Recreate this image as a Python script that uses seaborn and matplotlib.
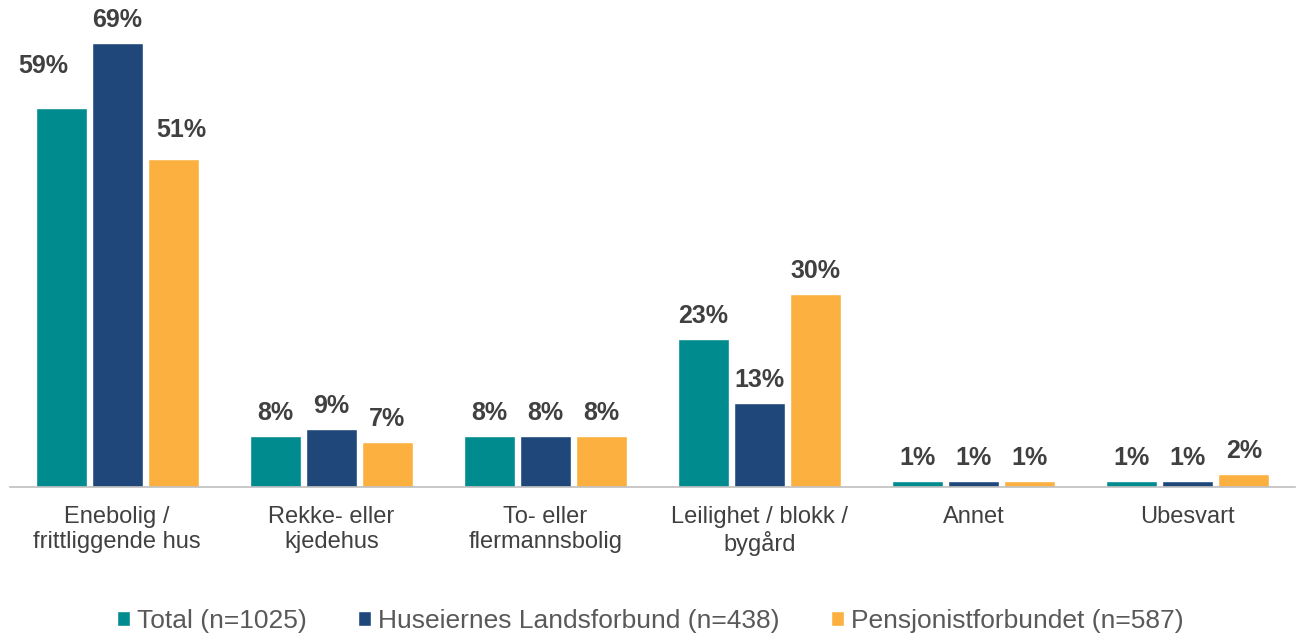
import pandas as pd
import matplotlib
matplotlib.use('Agg')
import matplotlib.pyplot as plt
import seaborn as sns
from matplotlib.ticker import FixedLocator

kategorier = ['Enebolig /\nfrittliggende hus', 'Rekke- eller\nkjedehus', 'To- eller\nflermannsbolig',
              'Leilighet / blokk /\nbygård', 'Annet', 'Ubesvart']
grupper = ['Total (n=1025)', 'Huseiernes Landsforbund (n=438)', 'Pensjonistforbundet (n=587)']
total = [59, 8, 8, 23, 1, 1]
huseiernes = [69, 9, 8, 13, 1, 1]
pensjonist = [51, 7, 8, 30, 1, 2]
farger = ['#008B8F', '#1F4779', '#FBB040']

rader = []
for gruppe, verdier in zip(grupper, [total, huseiernes, pensjonist]):
    for kat, v in zip(kategorier, verdier):
        rader.append({'Kategori': kat, 'Gruppe': gruppe, 'Andel': v})
df = pd.DataFrame(rader)

sns.set_style('white')
plt.rcParams['font.family'] = ['Liberation Sans', 'DejaVu Sans']

fig = plt.figure(figsize=(13.01, 6.38), dpi=100)
ax = fig.add_axes([10 / 1301, 151 / 638, 1285 / 1301, 477 / 638])

sns.barplot(data=df, x='Kategori', y='Andel', hue='Gruppe', palette=farger,
            width=0.785, gap=0.09, saturation=1, ax=ax, legend=True)

# etiketter over stolpene (to i første gruppe er flyttet litt, som i originalen)
flytt = {(0, 0): (-18, 19), (0, 2): (8, 6)}
for gi, cont in enumerate(ax.containers):
    for ki, bar in enumerate(cont):
        dx, dy = flytt.get((ki, gi), (0, 0))
        ax.annotate(f'{int(bar.get_height())}%',
                    (bar.get_x() + bar.get_width() / 2, bar.get_height()),
                    xytext=(dx, 11 + dy), textcoords='offset pixels',
                    ha='center', va='bottom', fontsize=18, fontweight='bold', color='#404040')

ax.set_xlim(-0.5, 5.5)
ax.set_ylim(0, 74.2)
ax.set_xlabel('')
ax.set_ylabel('')
ax.set_yticks([])
for s in ['left', 'right', 'top']:
    ax.spines[s].set_visible(False)
ax.spines['bottom'].set_color('#BFBFBF')
ax.spines['bottom'].set_linewidth(1.2)
ax.tick_params(axis='x', which='major', length=0, labelsize=17, labelcolor='#404040', pad=14)
for t in ax.get_xticklabels():
    t.set_linespacing(1.15)
ax.xaxis.set_minor_locator(FixedLocator([i - 0.5 for i in range(7)]))
ax.tick_params(axis='x', which='minor', length=6, color='#BFBFBF', width=1.2)

handles, labels = ax.get_legend_handles_labels()
ax.legend_.remove()
fig.legend(handles, labels, loc='center', bbox_to_anchor=(0.5, 1 - 621 / 638), ncol=3,
           frameon=False, fontsize=19, handlelength=0.5, handleheight=0.5,
           handletextpad=0.26, columnspacing=1.95, labelcolor='#595959')

fig.savefig('out.png', dpi=100)
